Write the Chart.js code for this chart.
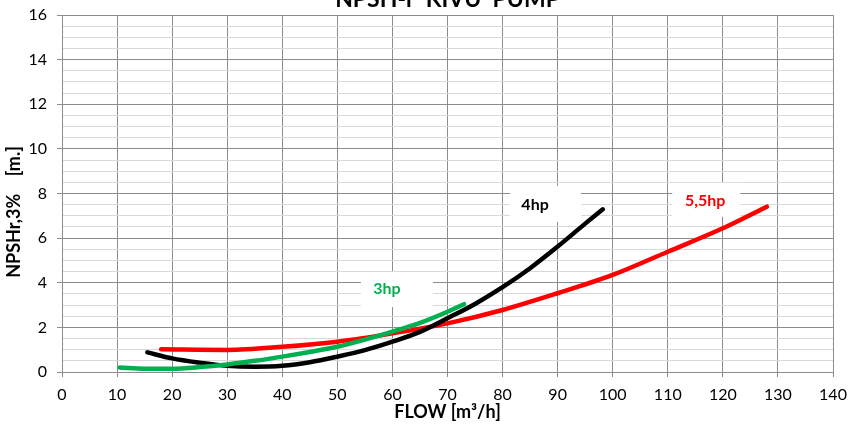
<!DOCTYPE html>
<html>
<head>
<meta charset="utf-8">
<script src="https://cdn.jsdelivr.net/npm/chart.js@4"></script>
<style>
    html, body { margin: 0; padding: 0; background: #fff; }
    #wrap { width: 848px; height: 425px; }
</style>
</head>
<body>
<div id="wrap"><canvas id="npsh"></canvas></div>
<script>
// values (flow in m3/h, NPSHr in m)
const flow3hp = [10.5, 15, 20, 25, 30, 35, 40, 45, 50, 55, 60, 65, 70, 73];
const npsh3hp = [0.2, 0.15, 0.15, 0.22, 0.34, 0.5, 0.69, 0.9, 1.13, 1.45, 1.81, 2.2, 2.7, 3.04];

const flow4hp = [15.5, 20, 25, 30, 35, 40, 45, 50, 55, 60, 65, 70, 75, 80, 85, 90, 95, 98.2];
const npsh4hp = [0.88, 0.61, 0.42, 0.28, 0.24, 0.28, 0.44, 0.69, 0.98, 1.36, 1.8, 2.41, 3.05, 3.8, 4.65, 5.62, 6.65, 7.29];

const flow55hp = [18, 30, 40, 50, 60, 70, 80, 90, 100, 110, 120, 128];
const npsh55hp = [1.02, 0.99, 1.13, 1.36, 1.73, 2.18, 2.78, 3.53, 4.35, 5.39, 6.44, 7.41];

const seriesNames = ['3hp', '4hp', '5,5hp'];
const seriesColors = ['#00b050', '#000000', '#ff0000'];

const FONT = 'Lato, "Open Sans", sans-serif';

function toPoints(xs, ys) {
    return xs.map((x, i) => ({x: x, y: ys[i]}));
}

const curveLabels = {
    id: 'curveLabels',
    afterDraw(chart) {
        const {ctx, chartArea, scales: {x, y}} = chart;
        // text anchors in data units, white box edges relative to the text centre
        const spots = [
            {name: seriesNames[0], color: seriesColors[0], fx: 59.0, fy: 3.72, l: 26, r: 46, t: 17, b: 18},
            {name: seriesNames[1], color: seriesColors[1], fx: 85.9, fy: 7.49, l: 25, r: 46, t: 19, b: 17},
            {name: seriesNames[2], color: seriesColors[2], fx: 116.8, fy: 7.67, l: 33, r: 35, t: 18, b: 16},
        ];
        ctx.save();
        spots.forEach(s => {
            const px = x.getPixelForValue(s.fx);
            const py = y.getPixelForValue(s.fy);
            ctx.fillStyle = '#ffffff';
            ctx.fillRect(px - s.l, py - s.t, s.l + s.r, s.t + s.b);
            ctx.fillStyle = s.color;
            ctx.font = 'bold 16px ' + FONT;
            ctx.textAlign = 'center';
            ctx.textBaseline = 'middle';
            ctx.fillText(s.name, px, py);
        });

        // chart title, partly cut by the top edge as in the reference
        ctx.fillStyle = '#000';
        ctx.font = 'bold 23px ' + FONT;
        ctx.textAlign = 'center';
        ctx.textBaseline = 'alphabetic';
        ctx.fillText('NPSH-r  KIVU  PUMP', (chartArea.left + chartArea.right) / 2, 7);

        // y axis title
        ctx.translate(14, 212);
        ctx.rotate(-Math.PI / 2);
        ctx.font = 'bold 18px ' + FONT;
        ctx.textBaseline = 'middle';
        ctx.fillText('NPSHr,3%    [m.]', 0, 0);
        ctx.restore();
    }
};

new Chart(document.getElementById('npsh'), {
    type: 'scatter',
    data: {
        datasets: [
            {label: seriesNames[0], data: toPoints(flow3hp, npsh3hp), borderColor: seriesColors[0]},
            {label: seriesNames[1], data: toPoints(flow4hp, npsh4hp), borderColor: seriesColors[1]},
            {label: seriesNames[2], data: toPoints(flow55hp, npsh55hp), borderColor: seriesColors[2]},
        ].map(d => Object.assign(d, {
            showLine: true,
            pointRadius: 0,
            borderWidth: 4.5,
            cubicInterpolationMode: 'monotone',
            borderCapStyle: 'round',
        }))
    },
    options: {
        responsive: true,
        maintainAspectRatio: false,
        animation: false,
        layout: {padding: {top: 15, right: 15, left: 0, bottom: 0}},
        plugins: {
            legend: {display: false},
            tooltip: {enabled: false},
        },
        scales: {
            x: {
                type: 'linear',
                min: 0,
                max: 140,
                ticks: {
                    stepSize: 10,
                    color: '#000',
                    padding: 8,
                    font: {family: FONT, size: 16},
                },
                grid: {color: '#8c8c8c', tickLength: 5, lineWidth: 1},
                border: {color: '#8c8c8c'},
                title: {
                    display: true,
                    text: 'FLOW [m³/h]',
                    color: '#000',
                    font: {family: FONT, size: 18, weight: 'bold'},
                    padding: {top: 0, bottom: 2},
                },
                afterFit(scale) {
                    scale.height = 53;
                    scale.paddingRight = 0;
                    scale.paddingLeft = 0;
                },
            },
            y: {
                type: 'linear',
                min: 0,
                max: 16,
                ticks: {
                    stepSize: 0.5,
                    autoSkip: false,
                    color: '#000',
                    padding: 10,
                    font: {family: FONT, size: 16},
                    callback: v => (v % 2 === 0 ? String(v) : ''),
                },
                grid: {
                    color: c => (c.tick && c.tick.value % 2 === 0 ? '#8c8c8c' : '#d9d9d9'),
                    tickColor: c => (c.tick && c.tick.value % 2 === 0 ? '#8c8c8c' : 'rgba(0,0,0,0)'),
                    tickLength: 5,
                    lineWidth: 1,
                },
                border: {color: '#8c8c8c'},
                afterFit(scale) {
                    scale.width = 62;
                    scale.paddingTop = 0;
                    scale.paddingBottom = 0;
                },
            },
        },
    },
    plugins: [curveLabels],
});
</script>
</body>
</html>
